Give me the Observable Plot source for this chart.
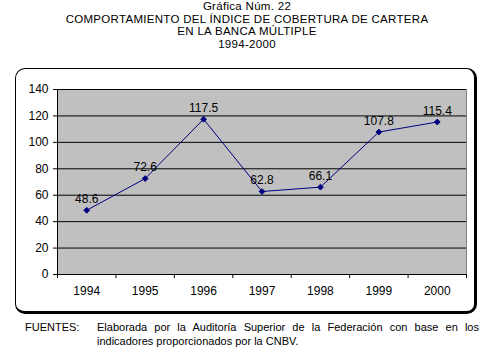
<!DOCTYPE html>
<html>
<head>
<meta charset="utf-8">
<script src="https://cdn.jsdelivr.net/npm/d3@7"></script>
<script src="https://cdn.jsdelivr.net/npm/@observablehq/plot@0.6"></script>
<style>
  html, body { margin: 0; padding: 0; background: white; }
  #wrap { position: relative; width: 494px; height: 364px; overflow: hidden; font-family: "Liberation Sans", Arial, sans-serif; color: black; }
  #title { position: absolute; left: 0; top: 0px; width: 494px; text-align: center; font-size: 11.5px; line-height: 12.5px; letter-spacing: 0.3px; }
  #frame { position: absolute; left: 15px; top: 68px; width: 458px; height: 242px; border-style: solid; border-color: black; border-width: 1px 3px 3px 1px; border-radius: 10px; z-index: 2; pointer-events: none; }
  #chart { position: absolute; left: 0; top: 0; z-index: 1; }
  #foot { position: absolute; top: 320px; left: 25px; font-size: 11px; line-height: 14px; }
  #foot .lbl { position: absolute; left: 0; top: 0; }
  #foot .txt { position: absolute; left: 72px; top: 0; width: 382px; text-align: justify; }
</style>
</head>
<body>
<div id="wrap">
  <div id="title">Gráfica Núm. 22<br>COMPORTAMIENTO DEL ÍNDICE DE COBERTURA DE CARTERA<br>EN LA BANCA MÚLTIPLE<br>1994-2000</div>
  <div id="frame"></div>
  <div id="chart"></div>
  <div id="foot"><span class="lbl">FUENTES:</span><div class="txt">Elaborada por la Auditoría Superior de la Federación con base en los indicadores proporcionados por la CNBV.</div></div>
</div>
<script>
const years = [1994, 1995, 1996, 1997, 1998, 1999, 2000];
const values = [48.6, 72.6, 117.5, 62.8, 66.1, 107.8, 115.4];
const yTicks = [0, 20, 40, 60, 80, 100, 120, 140];

const data = years.map((year, i) => ({year, value: values[i]}));
const boundaries = years.map(y => y - 0.5).concat([years[years.length - 1] + 0.5]);
const xLo = boundaries[0];

const chart = Plot.plot({
  width: 494,
  height: 364,
  marginTop: 89,
  marginBottom: 90,
  marginLeft: 57,
  marginRight: 28,
  x: {domain: [boundaries[0], boundaries[boundaries.length - 1]], label: null},
  y: {domain: [0, 140], label: null},
  style: {fontFamily: "'Liberation Sans', Arial, sans-serif", fontSize: "12px", background: "transparent", color: "black"},
  marks: [
    Plot.frame({fill: "#c0c0c0", stroke: "#808080"}),
    Plot.gridY(yTicks, {stroke: "black", strokeOpacity: 1}),
    Plot.ruleX([xLo], {stroke: "black"}),
    Plot.ruleY([0], {stroke: "black"}),
    Plot.axisY({ticks: yTicks, tickSize: 4, tickPadding: 5, label: null, tickFormat: d => String(d)}),
    Plot.axisX({ticks: boundaries, tickSize: 4, tickFormat: () => "", label: null}),
    Plot.axisX({ticks: years, tickSize: 0, tickPadding: 12, tickFormat: d => String(d), label: null}),
    Plot.line(data, {x: "year", y: "value", stroke: "#000080", strokeWidth: 1}),
    Plot.dot(data, {x: "year", y: "value", symbol: "diamond2", fill: "#000080", stroke: "#000080", strokeWidth: 1, r: 2.6}),
    Plot.text(data, {x: "year", y: "value", text: d => d.value.toFixed(1), dy: -11, fill: "black", fontSize: 12})
  ]
});
document.getElementById("chart").appendChild(chart);
</script>
</body>
</html>
